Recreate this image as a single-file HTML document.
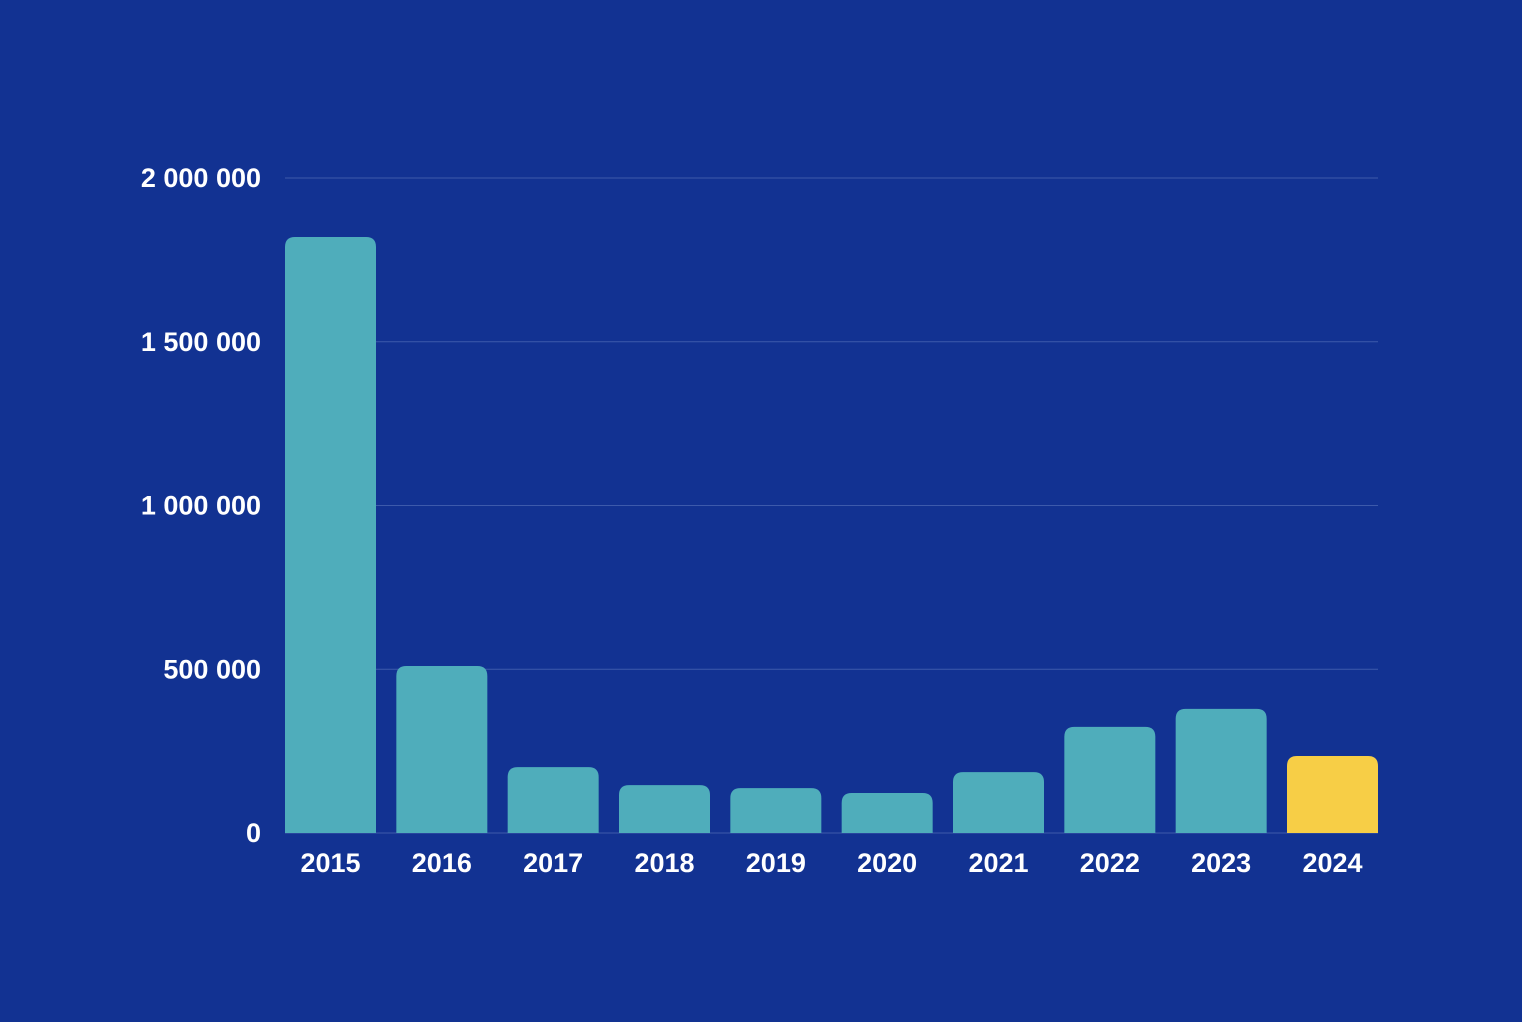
<!DOCTYPE html>
<html><head><meta charset="utf-8"><style>
html,body{margin:0;padding:0;background:#123292;}
svg{display:block;font-family:"Liberation Sans",sans-serif;}
</style></head><body>
<svg width="1522" height="1022" id="chart">
<rect x="0" y="0" width="1522" height="1022" fill="#123292"/>
</svg>
<script>
const categories = ["2015","2016","2017","2018","2019","2020","2021","2022","2023","2024"];
const values = [1820000,510000,201000,146000,137000,122000,186000,324000,379000,235000];
const tickValues = [0,500000,1000000,1500000,2000000];
const tickLabels = ["0","500 000","1 000 000","1 500 000","2 000 000"];
const highlight = ["2024"];

const svg = document.getElementById('chart');
const NS = 'http://www.w3.org/2000/svg';
const x0 = 285, x1 = 1378, y0 = 833, yTop = 178, maxV = 2000000;
const barW = 91;
const step = (x1 - x0 - barW) / (categories.length - 1);
function yScale(v){ return y0 - (v / maxV) * (y0 - yTop); }
function xScale(i){ return x0 + i * step; }
function mk(tag, attrs){ const e = document.createElementNS(NS, tag); for (const k in attrs) e.setAttribute(k, attrs[k]); return e; }

tickValues.forEach((t, i) => {
  const y = yScale(t);
  if (t > 0) {
    const g = mk('line', {x1: x0, x2: x1, y1: y, y2: y, stroke: '#3d5aab', 'stroke-width': 1});
    
    
    svg.appendChild(g);
  }
  const tx = mk('text', {x: 261, y: y + 9, 'text-anchor': 'end', fill: '#fff', 'font-size': 27, 'font-weight': 'bold'});
  tx.textContent = tickLabels[i];
  
  
  svg.appendChild(tx);
});

const base = mk('line', {x1: x0, x2: x1, y1: y0, y2: y0, stroke: '#3d5aab', 'stroke-width': 1});


svg.appendChild(base);

categories.forEach((c, i) => {
  const x = xScale(i), y = yScale(values[i]), h = y0 - y, r = Math.min(10, h);
  const d = `M${x},${y0} L${x},${y + r} Q${x},${y} ${x + r},${y} L${x + barW - r},${y} Q${x + barW},${y} ${x + barW},${y + r} L${x + barW},${y0} Z`;
  const p = mk('path', {d: d, fill: highlight.includes(c) ? '#f7ce46' : '#4fadbb'});
  
  
  svg.appendChild(p);
  const t = mk('text', {x: x + barW / 2, y: 872, 'text-anchor': 'middle', fill: '#fff', 'font-size': 27, 'font-weight': 'bold'});
  t.textContent = c;
  
  
  svg.appendChild(t);
});
</script>
</body></html>
